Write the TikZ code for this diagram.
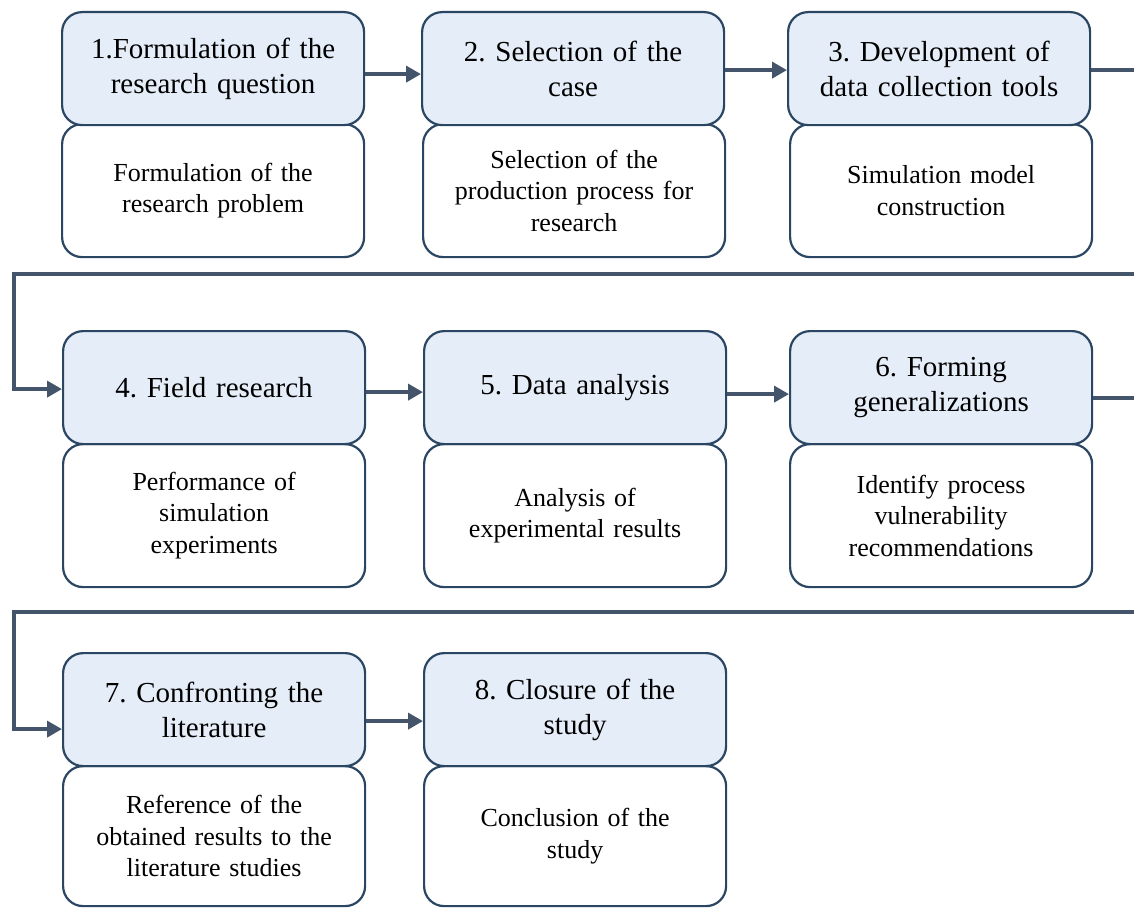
\documentclass[tikz,border=0pt]{standalone}
\usepackage{fontspec}
\setmainfont{Liberation Serif}
\usetikzlibrary{arrows.meta,calc}
\definecolor{bordc}{HTML}{2B4662}
\definecolor{linec}{HTML}{44546A}
\definecolor{fillc}{HTML}{E5EDF8}
\tikzset{
  basebox/.style={draw=bordc, line width=2.2pt, rounded corners=20pt, anchor=north west,
    inner sep=0pt, minimum width=302pt, align=center, text width=296pt},
  headbox/.style={basebox, fill=fillc, minimum height=113pt, font=\fontsize{29}{35}\selectfont},
  descbox/.style={basebox, fill=white, font=\fontsize{26}{31.5}\selectfont},
  conn/.style={draw=linec, line width=4pt, -{Triangle[length=15pt,width=16pt]}},
}
\frenchspacing
\begin{document}
\begin{tikzpicture}[x=1pt,y=-1pt]
\path[use as bounding box, clip] (0,0) rectangle (1134,907);
\fill[white] (0,0) rectangle (1134,907);
% description boxes
\node[descbox, minimum height=133pt] (d1) at (61,123) {Formulation of the\\research problem};
\node[descbox, minimum height=133pt] (d2) at (422,123) {Selection of the\\production process for\\research};
\node[descbox, minimum height=133pt] (d3) at (789,123) {Simulation model\\construction};
\node[descbox, minimum height=143pt] (d4) at (62,443) {Performance of\\simulation\\experiments};
\node[descbox, minimum height=143pt] (d5) at (423,443) {Analysis of\\experimental results};
\node[descbox, minimum height=143pt] (d6) at (789,443) {Identify process\\vulnerability\\recommendations};
\node[descbox, minimum height=140pt] (d7) at (62,765) {Reference of the\\obtained results to the\\literature studies};
\node[descbox, minimum height=140pt] (d8) at (423,765) {Conclusion of the\\study};
% header boxes
\node[headbox] (t1) at (61,11) {1.Formulation of the\\research question};
\node[headbox] (t2) at (421,11) {2. Selection of the\\case};
\node[headbox] (t3) at (787,11) {3. Development of\\data collection tools};
\node[headbox] (t4) at (62,330) {4. Field research};
\node[headbox] (t5) at (423,330) {5. Data analysis};
\node[headbox] (t6) at (789,330) {6. Forming\\generalizations};
\node[headbox] (t7) at (62,652) {7. Confronting the\\literature};
\node[headbox] (t8) at (423,652) {8. Closure of the\\study};
% turn points
\coordinate (r1) at (1150,274);
\coordinate (l1) at (14,274);
\coordinate (r2) at (1150,612);
\coordinate (l2) at (14,612);
% connectors
\draw[conn] ($(t1.east)+(0,5.5)$) -- ($(t2.west)+(0,5.5)$);
\draw[conn] ($(t2.east)+(0,1.5)$) -- ($(t3.west)+(0,1.5)$);
\draw[conn] ($(t3.east)+(0,1.5)$) -| (r1) -- (l1) |- ($(t4.west)+(0,1.5)$);
\draw[conn] ($(t4.east)+(0,4.5)$) -- ($(t5.west)+(0,4.5)$);
\draw[conn] ($(t5.east)+(0,6.5)$) -- ($(t6.west)+(0,6.5)$);
\draw[conn] ($(t6.east)+(0,10.5)$) -| (r2) -- (l2) |- ($(t7.west)+(0,19.5)$);
\draw[conn] ($(t7.east)+(0,11.5)$) -- ($(t8.west)+(0,11.5)$);
\end{tikzpicture}
\end{document}
